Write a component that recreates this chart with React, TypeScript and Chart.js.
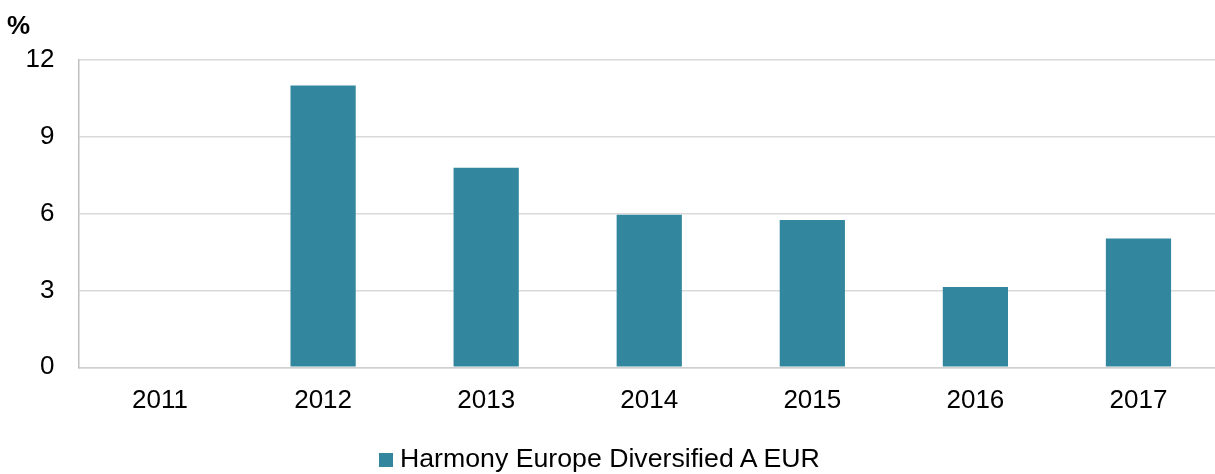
import React, { useEffect, useRef } from "react";
import { Chart, registerables } from "chart.js";

Chart.register(...registerables);

const categories = ["2011", "2012", "2013", "2014", "2015", "2016", "2017"];
const seriesName = "Harmony Europe Diversified A EUR";
const seriesValues: (number | null)[] = [null, 11.0, 7.79, 5.96, 5.75, 3.14, 5.03];
const yTicks = [0, 3, 6, 9, 12];
const unitLabel = "%";

const BAR_COLOR = "#32879e";
const FONT = "'Liberation Sans', Arial, sans-serif";

export default function App() {
  const canvasRef = useRef<HTMLCanvasElement | null>(null);

  useEffect(() => {
    const canvas = canvasRef.current;
    if (!canvas) return;
    const chart = new Chart(canvas, {
      type: "bar",
      data: {
        labels: categories,
        datasets: [
          {
            label: seriesName,
            data: seriesValues,
            backgroundColor: BAR_COLOR,
            borderWidth: 0,
            categoryPercentage: 1,
            barPercentage: 0.4,
          },
        ],
      },
      options: {
        responsive: false,
        maintainAspectRatio: false,
        animation: false,
        layout: { padding: { top: 60, bottom: 39.5, left: 0, right: 0 } },
        plugins: {
          legend: { display: false },
          tooltip: { enabled: false },
          title: { display: false },
        },
        scales: {
          x: {
            grid: { display: false, drawTicks: false },
            border: { display: true, color: "#d0d0d0", width: 1.5 },
            ticks: {
              color: "#000",
              font: { family: FONT, size: 26 },
              padding: 18,
              maxRotation: 0,
            },
          },
          y: {
            min: yTicks[0],
            max: yTicks[yTicks.length - 1],
            afterBuildTicks: (scale: any) => {
              scale.ticks = yTicks.map((v) => ({ value: v }));
            },
            afterFit: (scale: any) => {
              scale.width = 78.5;
            },
            grid: { color: "#d9d9d9", lineWidth: 1.5, drawTicks: false },
            border: { display: true, color: "#bfbfbf", width: 1.5 },
            ticks: {
              color: "#000",
              font: { family: FONT, size: 26 },
              padding: 24,
              stepSize: 3,
            },
          },
        },
      },
    });
    return () => chart.destroy();
  }, []);

  return (
    <div
      style={{
        position: "fixed",
        left: 0,
        top: 0,
        width: 1215,
        height: 474,
        overflow: "hidden",
        background: "#fff",
      }}
    >
      <canvas
        ref={canvasRef}
        width={1220}
        height={474}
        style={{ position: "absolute", left: 0, top: 0, width: 1220, height: 474 }}
      />
      <div
        style={{
          position: "absolute",
          left: 7,
          top: 12,
          fontFamily: FONT,
          fontSize: 26,
          fontWeight: "bold",
          lineHeight: "26px",
          color: "#000",
        }}
      >
        {unitLabel}
      </div>
      <div
        style={{
          position: "absolute",
          left: 379,
          top: 446,
          display: "flex",
          alignItems: "center",
          fontFamily: FONT,
          fontSize: 26.7,
          lineHeight: "25px",
          color: "#000",
          whiteSpace: "nowrap",
        }}
      >
        <span
          style={{
            display: "inline-block",
            width: 14,
            height: 14,
            background: BAR_COLOR,
            marginRight: 7,
            marginTop: 3,
          }}
        />
        <span>{seriesName}</span>
      </div>
    </div>
  );
}
